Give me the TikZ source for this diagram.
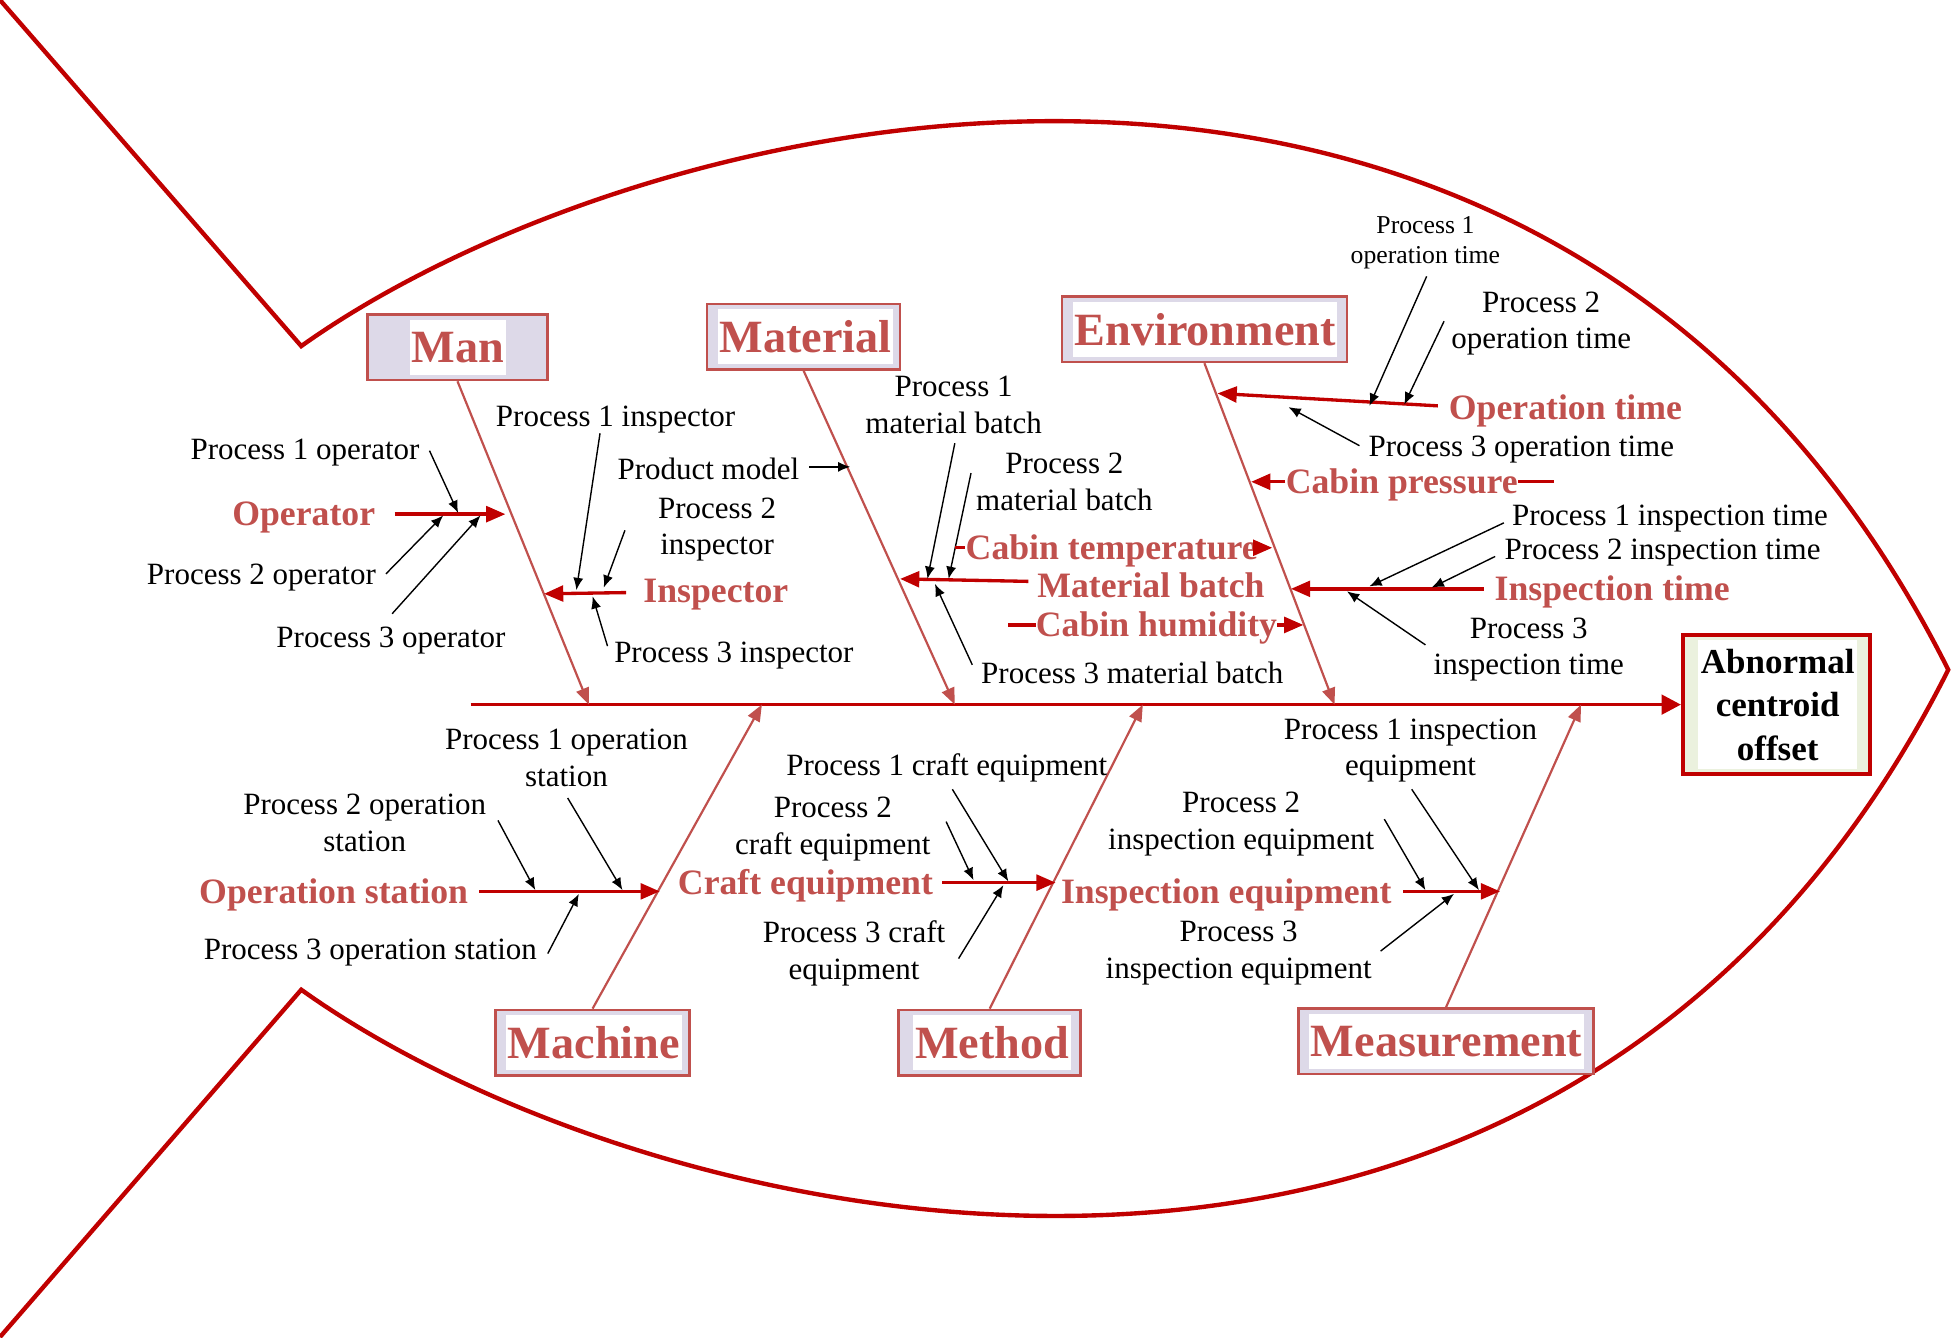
\documentclass[tikz,border=0pt]{standalone}
\usepackage{fontspec}
\setmainfont{Liberation Serif}
\usetikzlibrary{arrows.meta}
\definecolor{fishred}{HTML}{C00000}
\definecolor{catred}{HTML}{C0504D}
\definecolor{catfill}{HTML}{DDD9E8}
\definecolor{effill}{HTML}{EBF1DE}
\tikzset{
  outline/.style={draw=fishred, line width=2.5pt, line join=miter},
  spine/.style={draw=fishred, line width=2.1pt, -{Triangle[length=11pt,width=11pt]}},
  bone/.style={draw=catred, line width=1.25pt, -{Triangle[length=9.5pt,width=7.5pt]}},
  subarrow/.style={draw=fishred, line width=1.9pt, -{Triangle[length=11pt,width=9pt]}},
  subline/.style={draw=fishred, line width=1.9pt},
  tiny/.style={draw=black, line width=0.8pt, -{Latex[length=7pt,width=5.8pt]}},
  lbl/.style={font=\fontsize{17.7}{21}\selectfont, align=center, inner sep=0pt, yshift=-0.07cm},
  smalllbl/.style={font=\fontsize{14.7}{17}\selectfont, align=center, inner sep=0pt, yshift=-0.07cm},
  sublbl/.style={font=\bfseries\fontsize{20.4}{24}\selectfont, text=catred, inner sep=0pt, yshift=-0.07cm},
  catbox/.style={draw=catred, line width=1.5pt, fill=catfill, minimum height=1.31cm},
  cattxt/.style={font=\bfseries\fontsize{26.4}{30}\selectfont, text=catred, fill=white, inner xsep=1pt, inner ysep=0pt, minimum height=1.1cm},
}
\begin{document}
\begin{tikzpicture}[x=0.025cm, y=-0.025cm]
\useasboundingbox (0,0) rectangle (1568,1074);

% fish outline
\draw[outline] (0,0) -- (242,278) .. controls (520,80) and (1250,-90) .. (1565,538)
  .. controls (1250,1164) and (520,994) .. (242,795) -- (0,1074);

% effect box
\node[draw=fishred, line width=2.4pt, fill=effill, minimum width=3.75cm, minimum height=2.8cm] (effect) at (1427,566) {};
\node[fill=white, minimum width=3.2cm, minimum height=2.6cm, inner sep=0pt] (effectbg) at (1428,566) {};
\node[font=\bfseries\fontsize{20}{24.9}\selectfont, align=center, inner sep=0pt] (effecttxt) at (1428,566) {Abnormal\\centroid\\offset};

% spine
\coordinate (spS) at (378,566);
\draw[spine] (spS) -- (effect.west);

% category boxes
\node[catbox, minimum width=3.625cm] (man) at (367.5,279) {};
\node[cattxt] (mantxt) at (368,279) {Man};
\node[catbox, minimum width=3.875cm] (material) at (645.5,270.5) {};
\node[cattxt] (materialtxt) at (647,270.5) {Material};
\node[catbox, minimum width=5.725cm] (environment) at (967.5,264.5) {};
\node[cattxt] (environmenttxt) at (968,264.5) {Environment};
\node[catbox, minimum width=3.9cm] (machine) at (476,837.5) {};
\node[cattxt] (machinetxt) at (477,837.5) {Machine};
\node[catbox, minimum width=3.65cm] (method) at (795,837.5) {};
\node[cattxt] (methodtxt) at (797,837.5) {Method};
\node[catbox, minimum width=5.925cm] (measurement) at (1161.5,836.5) {};
\node[cattxt] (measurementtxt) at (1162,836.5) {Measurement};

% bones
\coordinate (b1) at (473,566);
\coordinate (b2) at (767,566);
\coordinate (b3) at (1072,566);
\coordinate (b4) at (612,566);
\coordinate (b5) at (918,566);
\coordinate (b6) at (1270,566);
\draw[bone] (man.south) -- (b1);
\draw[bone] (material.south) -- (b2);
\draw[bone] (environment.south) -- (b3);
\draw[bone] (machine.north) -- (b4);
\draw[bone] (method.north) -- (b5);
\draw[bone] (measurement.north) -- (b6);

% ---- Man ----
\node[sublbl] (operator) at (244,413) {Operator};
\coordinate (opT) at (317,413); \coordinate (opH) at (406,413);
\draw[subarrow] (opT) -- (opH);
\node[lbl] (p1op) at (245,361) {Process 1 operator};
\node[lbl] (p2op) at (210,461) {Process 2 operator};
\node[lbl] (p3op) at (314,512) {Process 3 operator};
\coordinate (p1opS) at (345,362); \coordinate (p1opE) at (368,412);
\coordinate (p2opS) at (310,461); \coordinate (p2opE) at (356,414);
\coordinate (p3opS) at (315,493); \coordinate (p3opE) at (386,414);
\draw[tiny] (p1opS) -- (p1opE);
\draw[tiny] (p2opS) -- (p2opE);
\draw[tiny] (p3opS) -- (p3opE);

\node[sublbl] (inspector) at (575,475) {Inspector};
\coordinate (inT) at (503,476); \coordinate (inH) at (437,477);
\draw[subarrow] (inT) -- (inH);
\node[lbl] (p1in) at (494.5,334) {Process 1 inspector};
\node[lbl] (p2in) at (576,422.5) {Process 2\\inspector};
\node[lbl] (p3in) at (589.5,524) {Process 3 inspector};
\coordinate (p1inS) at (482,348); \coordinate (p1inE) at (463,474);
\coordinate (p2inS) at (502,426); \coordinate (p2inE) at (485,472);
\coordinate (p3inS) at (488,519); \coordinate (p3inE) at (476,479);
\draw[tiny] (p1inS) -- (p1inE);
\draw[tiny] (p2inS) -- (p2inE);
\draw[tiny] (p3inS) -- (p3inE);

% ---- Material ----
\node[lbl] (prodmodel) at (569,374) {Product model};
\coordinate (pmS) at (650,375); \coordinate (pmE) at (683,375);
\draw[tiny] (pmS) -- (pmE);

\node[sublbl] (matbatch) at (924.5,467) {Material batch};
\coordinate (mbT) at (826,467); \coordinate (mbH) at (723,465);
\draw[subarrow] (mbT) -- (mbH);
\node[lbl] (p1mb) at (766,322.5) {Process 1\\material batch};
\node[lbl] (p2mb) at (855,384.5) {Process 2\\material batch};
\node[lbl] (p3mb) at (909.5,538) {Process 3 material batch};
\coordinate (p1mbS) at (767,356); \coordinate (p1mbE) at (745,465);
\coordinate (p2mbS) at (780,380); \coordinate (p2mbE) at (762,465);
\coordinate (p3mbS) at (781,534); \coordinate (p3mbE) at (751,469);
\draw[tiny] (p1mbS) -- (p1mbE);
\draw[tiny] (p2mbS) -- (p2mbE);
\draw[tiny] (p3mbS) -- (p3mbE);

% ---- Environment ----
\node[sublbl] (cabintemp) at (893,440) {Cabin temperature};
\coordinate (ctT) at (767,440); \coordinate (ctH) at (1022,440);
\draw[subline] (ctT) -- (ctT -| cabintemp.west);
\draw[subarrow] (ctH -| cabintemp.east) -- (ctH);
\node[sublbl] (cabinhum) at (929,502) {Cabin humidity};
\coordinate (chT) at (810,502); \coordinate (chH) at (1047,502);
\draw[subline] (chT) -- (chT -| cabinhum.west);
\draw[subarrow] (chH -| cabinhum.east) -- (chH);
\node[sublbl] (cabinpress) at (1126,387) {Cabin pressure};
\coordinate (cpT) at (1248,387); \coordinate (cpH) at (1005,387);
\draw[subline] (cpT) -- (cpT -| cabinpress.east);
\draw[subarrow] (cpH -| cabinpress.west) -- (cpH);

\node[sublbl] (optime) at (1257.5,327) {Operation time};
\coordinate (otT) at (1155,326); \coordinate (otH) at (978,316);
\draw[subarrow] (otT) -- (otH);
\node[smalllbl] (p1ot) at (1145,192) {Process 1\\operation time};
\node[lbl] (p2ot) at (1238,257) {Process 2\\operation time};
\node[lbl] (p3ot) at (1222,358) {Process 3 operation time};
\coordinate (p1otS) at (1146,222); \coordinate (p1otE) at (1100,326);
\coordinate (p2otS) at (1160,258); \coordinate (p2otE) at (1128,325);
\coordinate (p3otS) at (1092,358); \coordinate (p3otE) at (1035,327);
\draw[tiny] (p1otS) -- (p1otE);
\draw[tiny] (p2otS) -- (p2otE);
\draw[tiny] (p3otS) -- (p3otE);

\node[sublbl] (insptime) at (1295,473) {Inspection time};
\coordinate (itT) at (1192,473); \coordinate (itH) at (1037,473);
\draw[subarrow] (itT) -- (itH);
\node[lbl] (p1it) at (1341.5,414) {Process 1 inspection time};
\node[lbl] (p2it) at (1335.5,441) {Process 2 inspection time};
\node[lbl] (p3it) at (1228,519) {Process 3\\inspection time};
\coordinate (p1itS) at (1208,420); \coordinate (p1itE) at (1100,471);
\coordinate (p2itS) at (1201,447); \coordinate (p2itE) at (1150,472);
\coordinate (p3itS) at (1145,518); \coordinate (p3itE) at (1082,475);
\draw[tiny] (p1itS) -- (p1itE);
\draw[tiny] (p2itS) -- (p2itE);
\draw[tiny] (p3itS) -- (p3itE);

% ---- Machine ----
\node[sublbl] (opstation) at (268,716) {Operation station};
\coordinate (osT) at (385,716); \coordinate (osH) at (530,716);
\draw[subarrow] (osT) -- (osH);
\node[lbl] (p1os) at (455,606) {Process 1 operation\\station};
\node[lbl] (p2os) at (293,658.5) {Process 2 operation\\station};
\node[lbl] (p3os) at (297.5,762) {Process 3 operation station};
\coordinate (p1osS) at (456,641); \coordinate (p1osE) at (500,715);
\coordinate (p2osS) at (400,659); \coordinate (p2osE) at (430,715);
\coordinate (p3osS) at (440,766); \coordinate (p3osE) at (465,718);
\draw[tiny] (p1osS) -- (p1osE);
\draw[tiny] (p2osS) -- (p2osE);
\draw[tiny] (p3osS) -- (p3osE);

% ---- Method ----
\node[sublbl] (crafteq) at (647,709) {Craft equipment};
\coordinate (ceT) at (757,709); \coordinate (ceH) at (848,709);
\draw[subarrow] (ceT) -- (ceH);
\node[lbl] (p1ce) at (760.5,614) {Process 1 craft equipment};
\node[lbl] (p2ce) at (669,663) {Process 2\\craft equipment};
\node[lbl] (p3ce) at (686,763) {Process 3 craft\\equipment};
\coordinate (p1ceS) at (765,634); \coordinate (p1ceE) at (810,708);
\coordinate (p2ceS) at (760,660); \coordinate (p2ceE) at (782,707);
\coordinate (p3ceS) at (770,770); \coordinate (p3ceE) at (806,711);
\draw[tiny] (p1ceS) -- (p1ceE);
\draw[tiny] (p2ceS) -- (p2ceE);
\draw[tiny] (p3ceS) -- (p3ceE);

% ---- Measurement ----
\node[sublbl] (inspeq) at (985,716) {Inspection equipment};
\coordinate (ieT) at (1127,716); \coordinate (ieH) at (1205,716);
\draw[subarrow] (ieT) -- (ieH);
\node[lbl] (p1ie) at (1133,600) {Process 1 inspection\\equipment};
\node[lbl] (p2ie) at (997,659) {Process 2\\inspection equipment};
\node[lbl] (p3ie) at (995,763) {Process 3\\inspection equipment};
\coordinate (p1ieS) at (1134,634); \coordinate (p1ieE) at (1188,715);
\coordinate (p2ieS) at (1112,658); \coordinate (p2ieE) at (1145,715);
\coordinate (p3ieS) at (1109,764); \coordinate (p3ieE) at (1168,718);
\draw[tiny] (p1ieS) -- (p1ieE);
\draw[tiny] (p2ieS) -- (p2ieE);
\draw[tiny] (p3ieS) -- (p3ieE);
\end{tikzpicture}
\end{document}
